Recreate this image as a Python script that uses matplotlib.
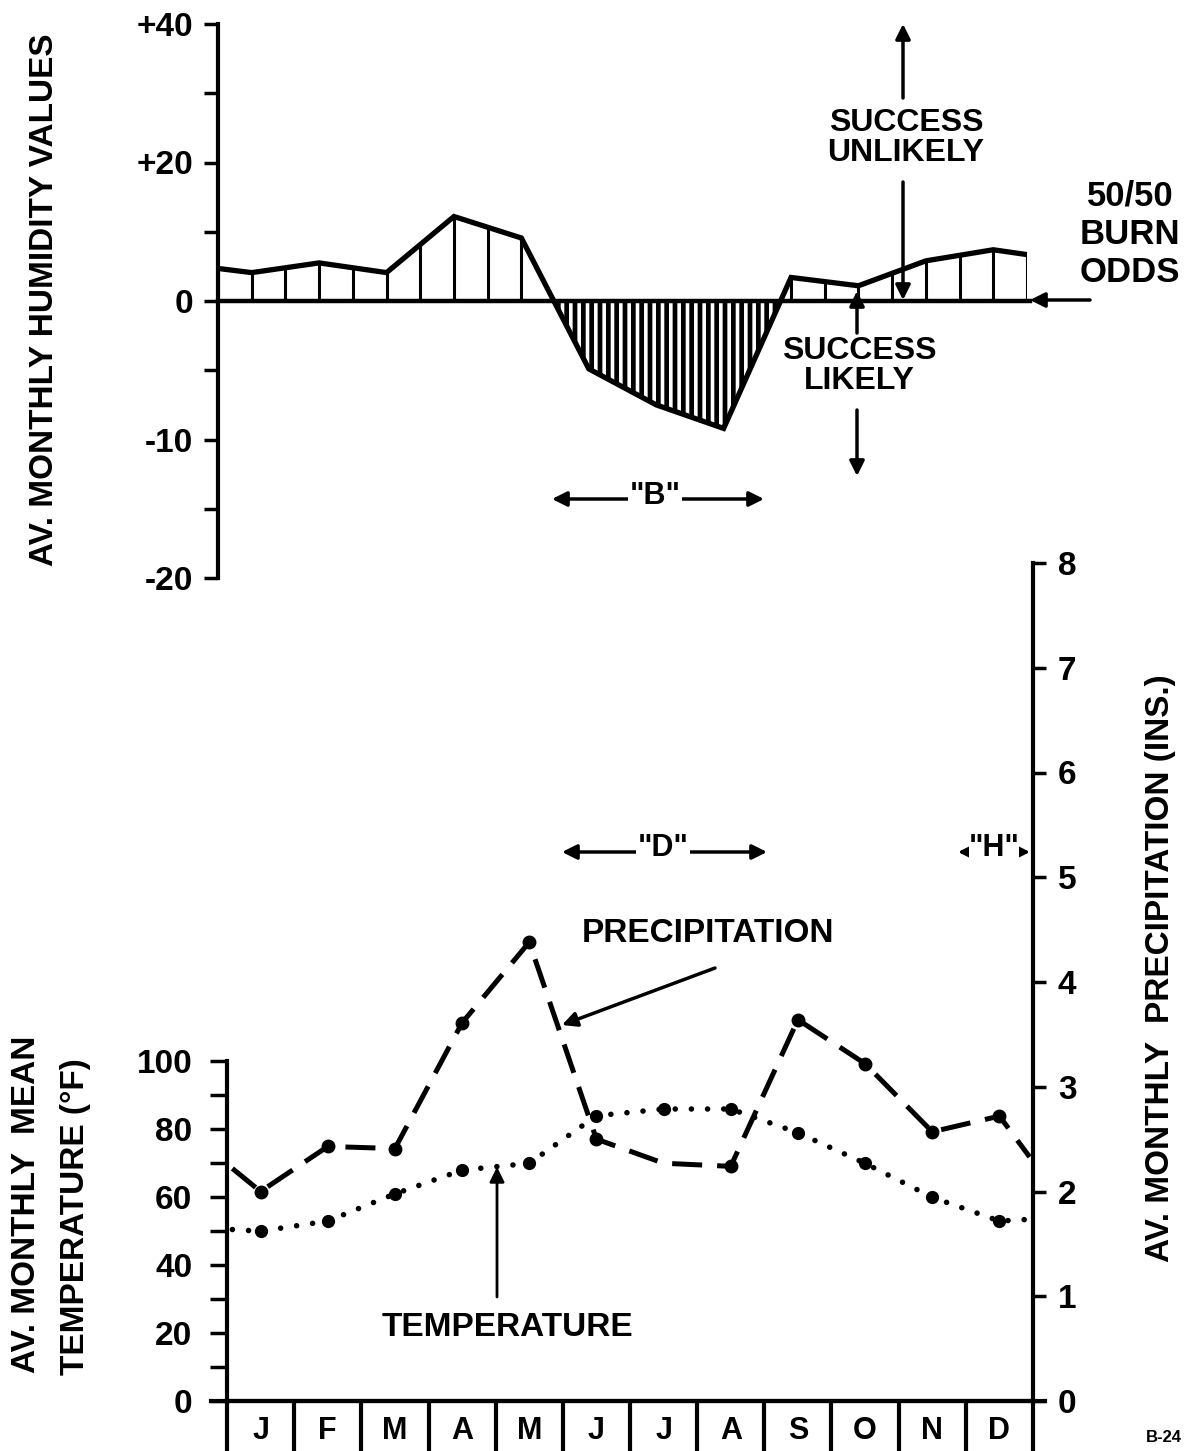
import numpy as np
import matplotlib
matplotlib.use('Agg')
import matplotlib.pyplot as plt
from matplotlib import font_manager as fm

# ---------------- data ----------------
months = ['J', 'F', 'M', 'A', 'M', 'J', 'J', 'A', 'S', 'O', 'N', 'D']
humidity = [4.1, 5.5, 4.1, 12.2, 9.1, -4.9, -7.5, -9.2, 3.4, 2.2, 5.8, 7.4]
humidity_start = 4.7
humidity_end = 6.7
temperature = [50, 53, 61, 68, 70, 84, 86, 86, 79, 70, 60, 53]
temperature_start = 50.5
temperature_end = 53.5
precipitation = [2.00, 2.43, 2.41, 3.61, 4.38, 2.50, 2.27, 2.24, 3.64, 3.22, 2.57, 2.72]
precip_start = 2.22
precip_end = 2.33
precip_marked = [True, True, True, True, True, True, False, True, True, True, True, True]
hum_ticks = [40, 30, 20, 10, 0, -5, -10, -15, -20]
hum_ticklabels = ['+40', '', '+20', '', '0', '', '-10', '', '-20']
temp_ticks = list(range(0, 101, 10))
temp_ticklabels = [str(t) if t % 20 == 0 else '' for t in temp_ticks]
precip_ticks = list(range(0, 9))

# ---------------- fonts ----------------
names = {f.name for f in fm.fontManager.ttflist}
FAMILY = 'Liberation Sans Narrow' if 'Liberation Sans Narrow' in names else 'Liberation Sans'
plt.rcParams['font.family'] = [FAMILY, 'DejaVu Sans']
plt.rcParams['font.weight'] = 'bold'
plt.rcParams['hatch.color'] = 'white'
plt.rcParams['hatch.linewidth'] = 2.6
FS = 24
FA = 23

W, H = 1187, 1451
fig = plt.figure(figsize=(W / 100, H / 100), dpi=100)


def add_px_axes(left, top, right, bottom):
    return fig.add_axes([left / W, 1 - bottom / H, (right - left) / W, (bottom - top) / H])


def P(x, y):
    return (x / W, 1 - y / H)


def arrow(tail, head, style='-|>', lw=2.5, ms=22):
    fig.add_artist(matplotlib.patches.FancyArrowPatch(
        P(*tail), P(*head), transform=fig.transFigure, arrowstyle=style,
        mutation_scale=ms, lw=lw, color='black', shrinkA=0, shrinkB=0))


def ftext(x, y, s, size=FA, **kw):
    kw.setdefault('ha', 'center')
    kw.setdefault('va', 'center')
    return fig.text(*P(x, y), s, fontsize=size, fontweight='bold', **kw)


# ---------------- top panel: humidity ----------------
def fwd(v):
    v = np.asarray(v, dtype=float)
    return np.where(v >= 0, v / 2.0, v)


def inv(u):
    u = np.asarray(u, dtype=float)
    return np.where(u >= 0, u * 2.0, u)


ax1 = add_px_axes(218, 24, 1027, 578)
ax1.set_yscale('function', functions=(fwd, inv))
ax1.set_xlim(0, 12)
ax1.set_ylim(-20, 40)

x_h = np.concatenate([[0.0], np.arange(12) + 0.5, [12.0]])
y_h = np.concatenate([[humidity_start], humidity, [humidity_end]])
u_h = fwd(y_h)

xs = np.linspace(0, 12, 4801)
us = np.interp(xs, x_h, u_h)
ax1.fill_between(xs, 0, inv(us), where=us <= 0, interpolate=True,
                 facecolor='black', edgecolor='white', hatch='||', linewidth=0, zorder=1)

half = np.arange(0, 12.01, 0.5)
hv = inv(np.interp(half, x_h, u_h))
pos = hv > 0
ax1.vlines(half[pos], 0, hv[pos], color='black', lw=2.2, zorder=2)
ax1.plot(x_h, y_h, color='black', lw=3.8, solid_joinstyle='miter', zorder=3)
ax1.axhline(0, color='black', lw=3.2, xmax=1.004, clip_on=False, zorder=3)

for s in ['top', 'right', 'bottom']:
    ax1.spines[s].set_visible(False)
ax1.spines['left'].set_linewidth(3)
ax1.set_yticks(hum_ticks, hum_ticklabels)
ax1.yaxis.set_minor_locator(matplotlib.ticker.NullLocator())
ax1.tick_params(axis='y', direction='out', length=10, width=2.5, pad=8, labelsize=FS)
ax1.tick_params(axis='x', bottom=False, labelbottom=False)

# annotations top
arrow((903, 98), (903, 24))
arrow((903, 182), (903, 300))
ftext(906, 138, 'SUCCESS\nUNLIKELY', linespacing=1.0)
arrow((857, 333), (857, 291))
arrow((857, 410), (857, 476))
ftext(859, 366, 'SUCCESS\nLIKELY', linespacing=1.0)
arrow((1090, 300), (1030, 300))
ftext(1130, 234, '50/50\nBURN\nODDS', size=25, linespacing=1.2)
arrow((655, 499), (552, 499))
arrow((655, 499), (764, 499))
ftext(655, 496, '"B"', size=22, bbox=dict(facecolor='white', edgecolor='none', pad=1))

ftext(45, 300, 'AV. MONTHLY HUMIDITY VALUES', size=FS, rotation=90)

# ---------------- bottom panel ----------------
ax = add_px_axes(227, 563, 1033, 1401)
ax.set_xlim(0, 12)
ax.set_ylim(0, 246.8)
ax2 = ax.twinx()
ax2.set_ylim(0, 8)

for s in ['top', 'right']:
    ax.spines[s].set_visible(False)
for s in ['top', 'left', 'bottom']:
    ax2.spines[s].set_visible(False)
ax.spines['left'].set_bounds(0, 100)
ax.spines['left'].set_linewidth(3)
ax.spines['bottom'].set_linewidth(3)
ax2.spines['right'].set_linewidth(3)
ax.axhline(0, xmin=-0.02, xmax=1.015, color='black', lw=3, clip_on=False)

ax.set_yticks(temp_ticks, temp_ticklabels)
ax.tick_params(axis='y', direction='out', length=12, width=2.5, pad=13, labelsize=FS)
ax2.set_yticks(precip_ticks, [str(t) for t in precip_ticks])
ax2.tick_params(axis='y', direction='out', length=9, width=2.5, pad=9, labelsize=FS)

ax.set_xticks(np.arange(12) + 0.5, months)
ax.tick_params(axis='x', length=0, pad=11, labelsize=22)
ax.vlines(np.arange(13), -16, 0, color='black', lw=3, clip_on=False)

# temperature
xt = np.concatenate([[0.08], np.arange(12) + 0.5, [11.95]])
yt = np.concatenate([[temperature_start], temperature, [temperature_end]])
ax.plot(xt, yt, color='black', lw=4, linestyle=(0, (0.01, 2.9)), dash_capstyle='round')
ax.plot(np.arange(12) + 0.5, temperature, 'o', color='black', ms=8.5)

# precipitation
xp = np.concatenate([[0.08], np.arange(12) + 0.5, [11.95]])
yp = np.concatenate([[precip_start], precipitation, [precip_end]])
ax2.plot(xp, yp, color='black', lw=3.6, linestyle=(0, (6, 3)))
mk = np.array(precip_marked)
ax2.plot((np.arange(12) + 0.5)[mk], np.array(precipitation)[mk], 'o', color='black', ms=9)

# annotations bottom
ftext(708, 933, 'PRECIPITATION', size=FS)
arrow((715, 968), (562, 1025))
ftext(507, 1328, 'TEMPERATURE', size=FS)
arrow((497, 1297), (497, 1167), lw=2)
arrow((663, 852), (562, 852))
arrow((663, 852), (767, 852))
ftext(663, 848, '"D"', size=22, bbox=dict(facecolor='white', edgecolor='none', pad=1))
arrow((994, 852), (958, 852), ms=16)
arrow((994, 852), (1030, 852), ms=16)
ftext(994, 848, '"H"', size=22, bbox=dict(facecolor='white', edgecolor='none', pad=0))

ftext(27, 1204, 'AV. MONTHLY  MEAN', size=FS, rotation=90)
ftext(76, 1217, 'TEMPERATURE (°F)', size=FS, rotation=90)
ftext(1160, 968, 'AV. MONTHLY  PRECIPITATION (INS.)', size=FS, rotation=90)
ftext(1146, 1438, 'B-24', size=12, ha='left')

fig.savefig('out.png', dpi=100, facecolor='white')
